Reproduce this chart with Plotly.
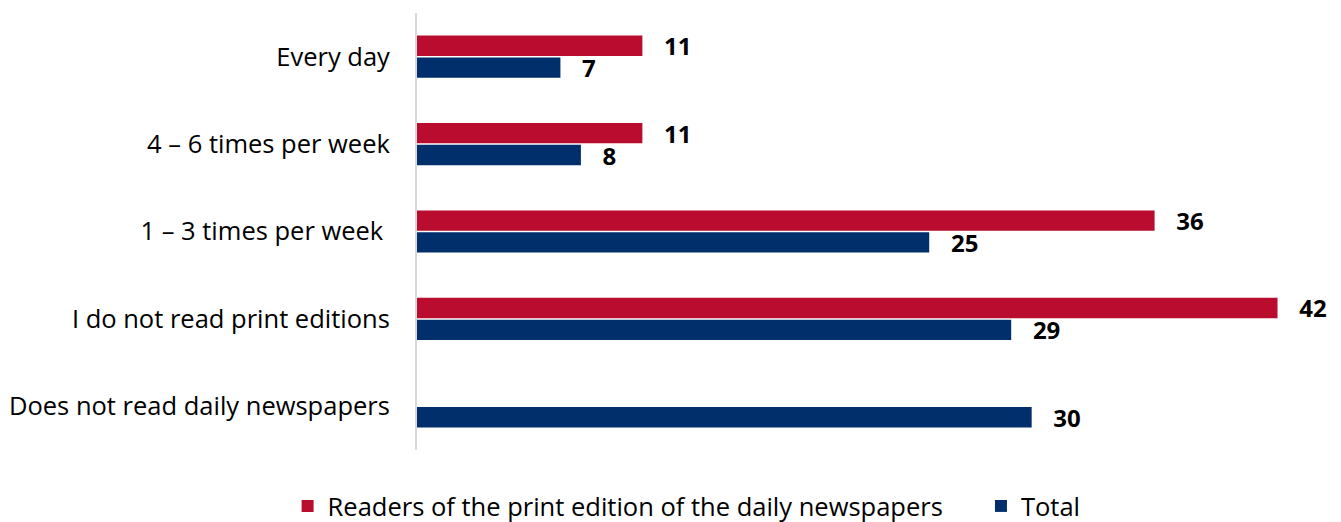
import plotly.graph_objects as go

categories = [
    "Every day",
    "4 – 6 times per week",
    "1 – 3 times per week\u00a0",
    "I do not read print editions",
    "Does not read daily newspapers",
]
print_readers = [11, 11, 36, 42, None]
total = [7, 8, 25, 29, 30]

series_names = ["Readers of the print edition of the daily newspapers", "Total"]
RED = "#BA0C2F"
BLUE = "#002F6C"
FONT = "Open Sans"
PAD = "\u00a0\u00a0\u00a0"
LEGEND_GAP = "\u00a0" * 5

fig = go.Figure()
for i, (name, vals, col) in enumerate([(series_names[0], print_readers, RED), (series_names[1], total, BLUE)]):
    fig.add_trace(go.Bar(
        y=categories,
        x=vals,
        name=name + (LEGEND_GAP if i == 0 else ""),
        orientation="h",
        marker=dict(color=col, line=dict(width=0)),
        text=[None if v is None else f"{PAD}{v}" for v in vals],
        textposition="outside",
        constraintext="none",
        textfont=dict(family=FONT, size=24, color="#000000", weight="bold"),
        cliponaxis=False,
    ))

fig.update_layout(
    width=1341,
    height=522,
    margin=dict(l=417, r=2, t=13, b=72),
    paper_bgcolor="white",
    plot_bgcolor="white",
    barmode="group",
    bargap=0.5,
    bargroupgap=0.07,
    font=dict(family=FONT, size=25.5, color="#000000"),
    xaxis=dict(range=[0, 45], visible=False, showgrid=False, zeroline=False),
    yaxis=dict(
        autorange="reversed",
        showline=True,
        linecolor="#d9d9d9",
        linewidth=2,
        showgrid=False,
        ticks="",
        ticklabelstandoff=20,
        tickfont=dict(family=FONT, size=25.5, color="#000000"),
    ),
    legend=dict(
        orientation="h",
        xref="container",
        x=0.512,
        xanchor="center",
        yref="container",
        y=0.03,
        yanchor="middle",
        font=dict(family=FONT, size=25.5, color="#000000"),
        itemwidth=30,
        tracegroupgap=0,
        traceorder="normal",
    ),
    showlegend=True,
)

fig.write_html("out.html")
